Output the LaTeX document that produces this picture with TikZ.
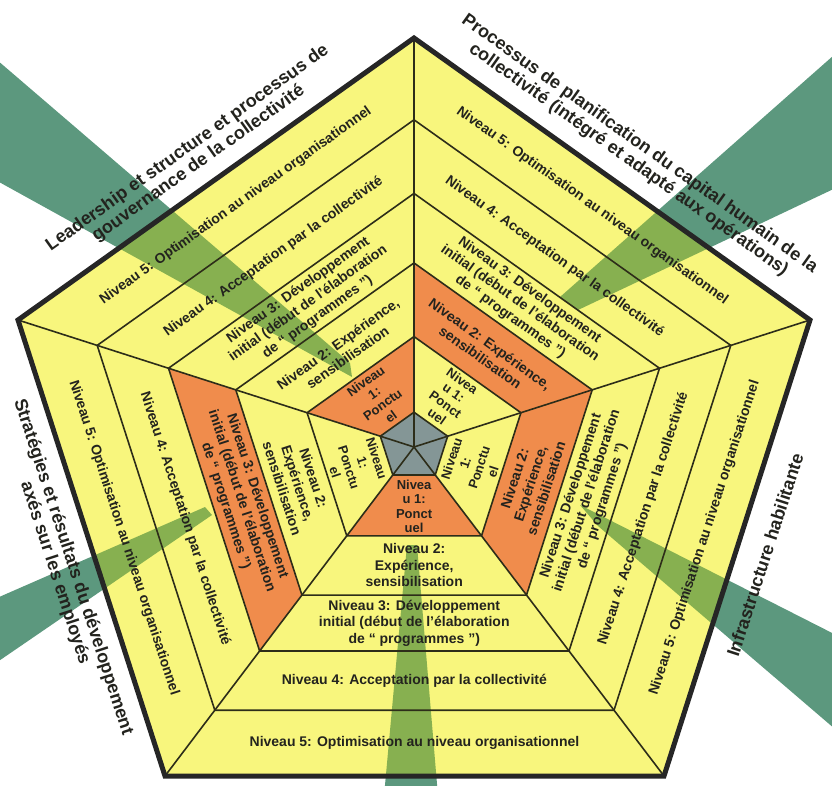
\documentclass[tikz,border=0pt]{standalone}
\usepackage{fontspec}
\setmainfont{Liberation Sans}
\usetikzlibrary{calc}
\definecolor{cyel}{RGB}{248,246,125}
\definecolor{corg}{RGB}{240,140,76}
\definecolor{cgry}{RGB}{132,150,150}
\definecolor{cline}{RGB}{45,45,25}
\definecolor{cbeamout}{RGB}{92,152,126}
\definecolor{cbeamin}{RGB}{60,130,50}
\definecolor{ctext}{RGB}{35,35,30}
\tikzset{
 cell/.style={font=\bfseries\fontsize{14}{16.5}\selectfont, align=center, text=ctext, inner sep=0pt},
 cellone/.style={font=\bfseries\fontsize{13}{14.5}\selectfont, align=center, text=ctext, inner sep=0pt},
 lab/.style={font=\bfseries\fontsize{18}{19}\selectfont, align=center, text=ctext, inner sep=0pt},
 ring/.style={draw=cline, line width=1.6pt, line join=round},
 border/.style={draw=black!85, line width=5pt, line join=miter},
 beamout/.style={fill=cbeamout},
 beamin/.style={fill=cbeamin, fill opacity=0.6},
 orangecell/.style={fill=corg},
 greycell/.style={fill=cgry},
}
\begin{document}
\begin{tikzpicture}[x=1pt,y=-1pt]
\useasboundingbox (0,0) rectangle (832,786);
% geometry
\coordinate (C) at (414,447);
\coordinate (V0) at (414,38);
\coordinate (V1) at (810,320);
\coordinate (V2) at (664,776);
\coordinate (V3) at (165,776);
\coordinate (V4) at (18,320);
\foreach \k/\f in {0/0.085,1/0.27,2/0.45,3/0.62,4/0.80}{
  \foreach \i in {0,1,2,3,4}{
    \coordinate (R\k-\i) at ($(C)!\f!(V\i)$);
  }
}
\coordinate (MA) at ($(V4)!0.5!(V0)$);
\coordinate (MB) at ($(V0)!0.5!(V1)$);
\coordinate (MC) at ($(V1)!0.5!(V2)$);
\coordinate (MD) at ($(V2)!0.5!(V3)$);
\coordinate (ME) at ($(V3)!0.5!(V4)$);
% beams (outer colour)
\def\beamone{(-10,54) -- (350,363) -- (352,377) -- (-10,177) -- cycle}
\def\beamtwo{(842,48) -- (560,297) -- (578,310) -- (842,185) -- cycle}
\def\beamthree{(842,638) -- (580,505) -- (598,526) -- (842,735) -- cycle}
\def\beamfour{(384,796) -- (407,545) -- (417,545) -- (438,796) -- cycle}
\def\beamfive{(-10,601) -- (205,507) -- (212,515) -- (-10,667) -- cycle}
\path[beamout] \beamone;
\path[beamout] \beamtwo;
\path[beamout] \beamthree;
\path[beamout] \beamfour;
\path[beamout] \beamfive;
% pentagon fill
\path[fill=cyel] (V0)--(V1)--(V2)--(V3)--(V4)--cycle;
% orange cells
\path[orangecell] (R0-4)--(R1-4)--(R1-0)--(R0-0)--cycle;
\path[orangecell] (R1-0)--(R2-0)--(R2-1)--(R1-1)--cycle;
\path[orangecell] (R1-1)--(R2-1)--(R2-2)--(R1-2)--cycle;
\path[orangecell] (R0-2)--(R1-2)--(R1-3)--(R0-3)--cycle;
\path[orangecell] (R2-3)--(R3-3)--(R3-4)--(R2-4)--cycle;
\path[greycell] (R0-0)--(R0-1)--(R0-2)--(R0-3)--(R0-4)--cycle;
% beams inside
\begin{scope}
\clip (V0)--(V1)--(V2)--(V3)--(V4)--cycle;
\path[beamin] \beamone;
\path[beamin] \beamtwo;
\path[beamin] \beamthree;
\path[beamin] \beamfour;
\path[beamin] \beamfive;
\end{scope}
% lines
\foreach \k in {0,...,4}{
  \draw[ring] (R\k-0)--(R\k-1)--(R\k-2)--(R\k-3)--(R\k-4)--cycle;
}
\foreach \i in {0,...,4}{
  \draw[ring] (R0-\i)--(V\i);
  \draw[ring] (C)--(R0-\i);
}
\draw[border] (V0)--(V1)--(V2)--(V3)--(V4)--cycle;
% sector A (top-left)
\node[cell, rotate=35.5] (A5) at ($(C)!0.90!(MA)$) {Niveau 5: Optimisation au niveau organisationnel};
\node[cell, rotate=35.5] (A4) at ($(C)!0.71!(MA)$) {Niveau 4: Acceptation par la collectivité};
\node[cell, rotate=35.5] (A3) at ($(C)!0.535!(MA)$) {Niveau 3: Développement\\initial (début de l'élaboration\\de “ programmes ”)};
\node[cell, rotate=35.5] (A2) at ($(C)!0.36!(MA)$) {Niveau 2: Expérience,\\sensibilisation};
\node[cellone, rotate=35.5] (A1) at ($(C)!0.18!(MA)$) {Niveau\\1:\\Ponctu\\el};
% sector B (top-right)
\node[cell, rotate=-35.5] (B5) at ($(C)!0.90!(MB)$) {Niveau 5: Optimisation au niveau organisationnel};
\node[cell, rotate=-35.5] (B4) at ($(C)!0.71!(MB)$) {Niveau 4: Acceptation par la collectivité};
\node[cell, rotate=-35.5] (B3) at ($(C)!0.535!(MB)$) {Niveau 3: Développement\\initial (début de l'élaboration\\de “ programmes ”)};
\node[cell, rotate=-35.5] (B2) at ($(C)!0.36!(MB)$) {Niveau 2: Expérience,\\sensibilisation};
\node[cellone, rotate=-35.5] (B1) at ($(C)!0.18!(MB)$) {Nivea\\u 1:\\Ponct\\uel};
% sector C (right)
\node[cell, rotate=72] (C5) at ($(C)!0.90!(MC)$) {Niveau 5: Optimisation au niveau organisationnel};
\node[cell, rotate=72] (C4) at ($(C)!0.71!(MC)$) {Niveau 4: Acceptation par la collectivité};
\node[cell, rotate=72] (C3) at ($(C)!0.535!(MC)$) {Niveau 3: Développement\\initial (début de l'élaboration\\de “ programmes ”)};
\node[cell, rotate=72] (C2) at ($(C)!0.36!(MC)$) {Niveau 2:\\Expérience,\\sensibilisation};
\node[cellone, rotate=72] (C1) at ($(C)!0.18!(MC)$) {Niveau\\1:\\Ponctu\\el};
% sector D (bottom)
\node[cell] (D5) at ($(C)!0.90!(MD)$) {Niveau 5: Optimisation au niveau organisationnel};
\node[cell] (D4) at ($(C)!0.71!(MD)$) {Niveau 4: Acceptation par la collectivité};
\node[cell] (D3) at ($(C)!0.535!(MD)$) {Niveau 3: Développement\\initial (début de l'élaboration\\de “ programmes ”)};
\node[cell] (D2) at ($(C)!0.36!(MD)$) {Niveau 2:\\Expérience,\\sensibilisation};
\node[cellone] (D1) at ($(C)!0.18!(MD)$) {Nivea\\u 1:\\Ponct\\uel};
% sector E (left)
\node[cell, rotate=-72] (E5) at ($(C)!0.90!(ME)$) {Niveau 5: Optimisation au niveau organisationnel};
\node[cell, rotate=-72] (E4) at ($(C)!0.71!(ME)$) {Niveau 4: Acceptation par la collectivité};
\node[cell, rotate=-72] (E3) at ($(C)!0.535!(ME)$) {Niveau 3: Développement\\initial (début de l'élaboration\\de “ programmes ”)};
\node[cell, rotate=-72] (E2) at ($(C)!0.36!(ME)$) {Niveau 2:\\Expérience,\\sensibilisation};
\node[cellone, rotate=-72] (E1) at ($(C)!0.18!(ME)$) {Niveau\\1:\\Ponctu\\el};
% outer labels
\node[lab, rotate=35.5] (LA) at (193,156) {Leadership et structure et processus de\\gouvernance de la collectivité};
\node[lab, rotate=-35.5] (LB) at (634,152) {Processus de planification du capital humain de la\\collectivité (intégré et adapté aux opérations)};
\node[lab, rotate=72] (LC) at (765,555) {Infrastructure habilitante};
\node[lab, rotate=-72] (LE) at (64,570) {Stratégies et résultats du développement\\axés sur les employés};
\end{tikzpicture}
\end{document}
